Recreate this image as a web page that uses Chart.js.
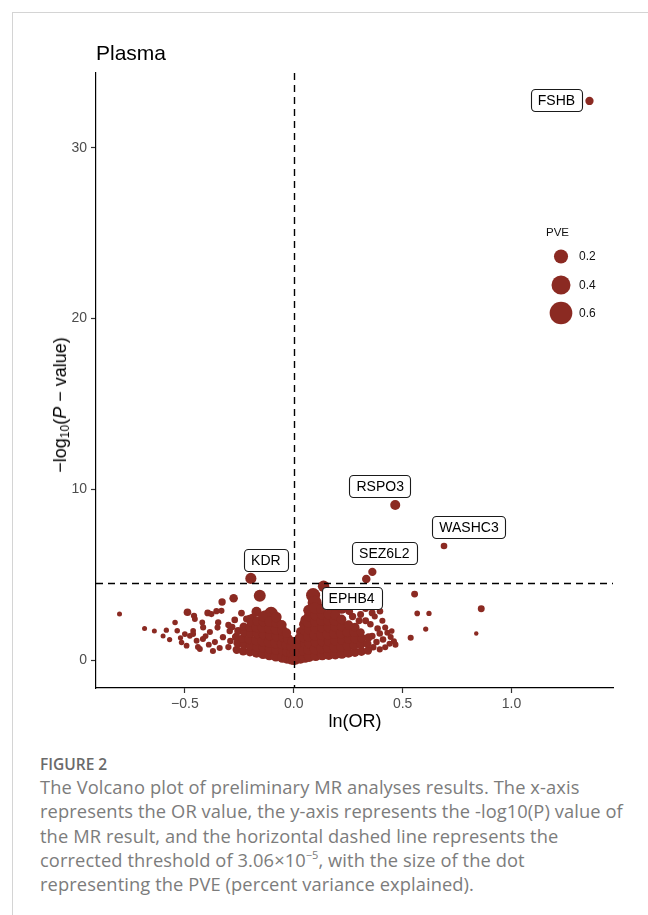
<!DOCTYPE html>
<html>
<head>
<meta charset="utf-8">
<script src="https://cdn.jsdelivr.net/npm/chart.js@4.4.1/dist/chart.umd.min.js"></script>
<style>
  html, body { margin: 0; padding: 0; background: #fff; }
  body { width: 648px; height: 915px; position: relative; overflow: hidden;
         font-family: "Liberation Sans", Arial, sans-serif; }
  #frame { position: absolute; left: 12px; top: 12px; width: 640px; height: 910px;
           border-top: 1px solid #d4d4d4; border-left: 1px solid #d4d4d4; }
  #wrap { position: absolute; left: 0; top: 0; width: 648px; height: 745px; }
  #plotTitle { position: absolute; left: 96px; top: 42px; font-size: 21px; color: #000; line-height: 1; }
  #yTitle { position: absolute; left: 61px; top: 405px; transform: translate(-50%, -50%) rotate(-90deg);
            font-size: 18px; color: #000; white-space: nowrap; line-height: 1; }
  #yTitle sub { font-size: 12px; vertical-align: -3px; }
  #xTitle { position: absolute; left: 355px; top: 721px; transform: translate(-50%, -50%);
            font-size: 18px; color: #000; white-space: nowrap; line-height: 1; }
  #figNo { position: absolute; left: 40px; top: 757px; font-family: "Open Sans", sans-serif;
           font-size: 15.5px; font-weight: 600; color: #6a6a6a; line-height: 1; }
  #caption { position: absolute; left: 40px; top: 775px; font-family: "Open Sans", sans-serif;
             font-size: 18.3px; letter-spacing: 0.1px; color: #7c7c7c; line-height: 24.3px; white-space: nowrap; }
  #caption sup { font-size: 11px; vertical-align: 8px; line-height: 0; letter-spacing: 0; }
</style>
</head>
<body>
<div id="frame"></div>
<div id="wrap"><canvas id="volcano" width="648" height="745"></canvas></div>
<div id="plotTitle">Plasma</div>
<div id="yTitle">−log<sub>10</sub>(<i>P</i> − value)</div>
<div id="xTitle">ln(OR)</div>
<div id="figNo">FIGURE 2</div>
<div id="caption">The Volcano plot of preliminary MR analyses results. The x-axis<br>represents the OR value, the y-axis represents the -log10(P) value of<br>the MR result, and the horizontal dashed line represents the<br>corrected threshold of 3.06×10<sup>−5</sup>, with the size of the dot<br>representing the PVE (percent variance explained).</div>

<script>
// ---- data -------------------------------------------------------------
// labelled genes: ln(OR), -log10(P), PVE
const geneNames = ['FSHB', 'RSPO3', 'WASHC3', 'SEZ6L2', 'KDR', 'EPHB4'];
const geneLnOR  = [1.358, 0.466, 0.690, 0.361, -0.197, 0.137];
const geneLogP  = [32.75, 9.08, 6.68, 5.16, 4.78, 4.32];
const genePVE   = [0.05, 0.084, 0.026, 0.05, 0.11, 0.12];

// Bonferroni-corrected threshold 3.06e-5 on the -log10 scale
const thresholdLogP = 4.514;

// remaining proteins, as [ln(OR), -log10(P), PVE]
const leftCore = [
  [-0.262,0.60,0.05],[-0.258,0.98,0.05],[-0.265,1.35,0.05],[-0.255,1.70,0.045],
  [-0.232,0.52,0.06],[-0.228,0.88,0.06],[-0.234,1.25,0.06],[-0.226,1.62,0.06],[-0.230,1.95,0.05],
  [-0.201,0.48,0.07],[-0.198,0.82,0.07],[-0.204,1.20,0.07],[-0.197,1.58,0.07],[-0.202,1.92,0.07],[-0.196,2.20,0.06],
  [-0.171,0.42,0.08],[-0.168,0.78,0.08],[-0.173,1.15,0.08],[-0.166,1.55,0.08],[-0.172,1.92,0.08],[-0.167,2.28,0.07],
  [-0.141,0.36,0.09],[-0.138,0.72,0.09],[-0.143,1.10,0.09],[-0.137,1.50,0.09],[-0.142,1.90,0.09],[-0.139,2.28,0.09],[-0.141,2.55,0.08],
  [-0.112,0.30,0.10],[-0.108,0.66,0.10],[-0.113,1.05,0.10],[-0.107,1.45,0.10],[-0.111,1.85,0.10],[-0.109,2.25,0.10],
  [-0.082,0.22,0.10],[-0.078,0.60,0.10],[-0.083,1.00,0.10],[-0.077,1.40,0.10],[-0.081,1.80,0.10],[-0.079,2.20,0.10],[-0.080,2.52,0.10],
  [-0.052,0.15,0.10],[-0.048,0.55,0.10],[-0.053,0.95,0.10],[-0.047,1.35,0.10],[-0.051,1.72,0.09],[-0.055,2.06,0.08],
  [-0.031,0.10,0.10],[-0.028,0.48,0.10],[-0.032,0.88,0.09],[-0.027,1.25,0.08],[-0.033,1.58,0.07],
  [-0.011,0.05,0.10],[-0.009,0.42,0.09],[-0.012,0.80,0.07],[-0.008,1.10,0.06],
  [0.000,0.02,0.10],[0.002,0.45,0.06]
];
const rightCore = [
  [0.009,0.05,0.10],[0.011,0.42,0.09],[0.008,0.80,0.07],
  [0.031,0.10,0.10],[0.028,0.50,0.10],[0.032,0.90,0.10],[0.027,1.28,0.09],[0.033,1.65,0.08],
  [0.052,0.15,0.10],[0.048,0.55,0.10],[0.053,0.95,0.10],[0.047,1.35,0.10],[0.051,1.75,0.10],[0.049,2.10,0.10],[0.054,2.35,0.09],
  [0.071,0.20,0.10],[0.068,0.60,0.10],[0.073,1.00,0.10],[0.067,1.40,0.10],[0.072,1.80,0.10],[0.069,2.20,0.10],[0.071,2.58,0.10],[0.068,2.92,0.10],
  [0.101,0.25,0.10],[0.098,0.65,0.10],[0.103,1.05,0.10],[0.097,1.45,0.10],[0.102,1.85,0.10],[0.099,2.25,0.10],[0.101,2.62,0.10],[0.097,3.05,0.12],
  [0.131,0.30,0.10],[0.128,0.70,0.10],[0.133,1.10,0.10],[0.127,1.50,0.10],[0.132,1.90,0.10],[0.129,2.30,0.10],[0.131,2.68,0.10],[0.126,3.00,0.09],
  [0.161,0.32,0.10],[0.158,0.72,0.10],[0.163,1.12,0.10],[0.157,1.52,0.10],[0.162,1.92,0.10],[0.159,2.32,0.10],[0.161,2.68,0.09],
  [0.191,0.35,0.10],[0.188,0.75,0.10],[0.193,1.15,0.10],[0.187,1.55,0.10],[0.192,1.95,0.10],[0.189,2.32,0.10],[0.191,2.62,0.08],
  [0.221,0.38,0.09],[0.218,0.78,0.09],[0.223,1.18,0.09],[0.217,1.58,0.09],[0.222,1.98,0.09],[0.219,2.38,0.08],
  [0.251,0.42,0.08],[0.248,0.82,0.08],[0.253,1.22,0.08],[0.247,1.62,0.08],[0.252,2.05,0.07],
  [0.281,0.45,0.07],[0.278,0.85,0.07],[0.283,1.25,0.07],[0.277,1.62,0.07],[0.282,1.92,0.06],
  [0.311,0.50,0.06],[0.308,0.90,0.06],[0.313,1.28,0.06],[0.307,1.62,0.05],
  [0.341,0.55,0.05],[0.338,0.95,0.05],[0.343,1.32,0.05]
];
const bigHits = [
  [-0.104,2.70,0.20],[-0.156,3.76,0.134],[-0.171,2.83,0.085],[-0.130,2.55,0.15],[-0.190,2.45,0.06],
  [0.089,3.80,0.20],[0.096,3.35,0.20],[0.081,2.88,0.13],[0.219,3.05,0.13],[0.185,2.95,0.08],[0.150,3.20,0.09]
];
const leftScatter = [
  [-0.800,2.69,0.010],[-0.685,1.85,0.010],[-0.640,1.70,0.010],[-0.585,1.75,0.012],[-0.545,2.20,0.014],
  [-0.535,1.72,0.014],[-0.570,1.20,0.012],[-0.515,1.03,0.014],[-0.500,1.52,0.016],[-0.477,1.42,0.016],
  [-0.492,0.84,0.016],[-0.462,1.71,0.016],[-0.446,1.13,0.018],[-0.440,0.76,0.018],[-0.488,2.80,0.040],
  [-0.458,2.59,0.022],[-0.395,2.76,0.028],[-0.355,2.86,0.022],[-0.329,3.40,0.036],[-0.276,3.62,0.055],
  [-0.378,2.69,0.020],[-0.454,2.40,0.018],[-0.416,1.91,0.020],[-0.347,2.20,0.022],[-0.332,2.88,0.020],
  [-0.462,1.52,0.018],[-0.417,1.23,0.020],[-0.385,1.64,0.020],[-0.362,1.05,0.020],[-0.325,1.34,0.022],
  [-0.294,1.70,0.024],[-0.291,1.11,0.024],[-0.283,1.93,0.026],[-0.300,0.76,0.022],[-0.371,0.53,0.020],
  [-0.431,0.64,0.018],[-0.202,2.45,0.030],[-0.217,2.40,0.030],[-0.271,2.35,0.026],[-0.300,2.05,0.022],
  [-0.240,2.75,0.028],[-0.405,1.40,0.018],[-0.390,0.90,0.018],[-0.340,0.70,0.020],[-0.350,1.90,0.020],
  [-0.420,2.20,0.016],[-0.520,1.30,0.012],[-0.600,1.40,0.010]
];
const rightScatter = [
  [0.307,2.67,0.030],[0.330,3.00,0.025],[0.360,2.76,0.030],[0.396,2.86,0.025],[0.407,2.30,0.020],
  [0.372,2.55,0.020],[0.352,2.10,0.025],[0.385,1.85,0.025],[0.420,1.90,0.020],[0.430,1.60,0.020],
  [0.395,1.55,0.025],[0.360,1.40,0.030],[0.410,1.20,0.025],[0.445,1.35,0.020],[0.460,1.10,0.020],
  [0.467,0.90,0.020],[0.440,0.95,0.020],[0.380,1.05,0.025],[0.420,0.75,0.020],[0.395,0.62,0.020],
  [0.365,0.75,0.025],[0.450,1.70,0.015],[0.330,2.30,0.030],[0.300,2.30,0.030],[0.270,2.55,0.035],
  [0.255,2.85,0.040],[0.240,3.25,0.035],[0.180,3.20,0.050],[0.333,4.74,0.055],
  [0.555,3.86,0.030],[0.567,2.73,0.015],[0.621,2.73,0.012],[0.606,1.81,0.012],[0.537,1.30,0.020],
  [0.861,3.00,0.030],[0.838,1.55,0.006]
];

// axis ticks
const xTicks = [-0.5, 0, 0.5, 1.0];
const xTickLabels = ['−0.5', '0.0', '0.5', '1.0'];
const yTicks = [0, 10, 20, 30];
const yTickLabels = ['0', '10', '20', '30'];

// PVE size key
const legendPVE = [0.2, 0.4, 0.6];
const legendLabels = ['0.2', '0.4', '0.6'];

// ---- styling / layout --------------------------------------------------
const DOT = '#8b2a22';
const FONT = '"Liberation Sans", Arial, sans-serif';
// point radius (px) grows with sqrt(PVE), like an area scale
const sizeOf = pve => 1.2 + 13.1 * Math.sqrt(pve);
// label box centre, as pixel offset from its point
const labelOffset = {
  FSHB: [-33, -1], RSPO3: [-15, -19], WASHC3: [25, -19],
  SEZ6L2: [12, -19], KDR: [15, -18], EPHB4: [28, 12]
};
const legendLayout = { titleX: 546, titleY: 233, dotX: 561, rowY: [256.5, 285, 313], textX: 579 };

const toBubbles = rows => rows.map(r => ({ x: r[0], y: r[1], r: sizeOf(r[2]) }));
const geneBubbles = geneNames.map((n, i) => ({ x: geneLnOR[i], y: geneLogP[i], r: sizeOf(genePVE[i]) }));

const ds = (data) => ({ data, backgroundColor: DOT, borderWidth: 0, hoverRadius: 0 });

const overlay = {
  id: 'overlay',
  afterDatasetsDraw(chart) {
    const { ctx, chartArea: a, scales: { x, y } } = chart;
    ctx.save();
    // reference lines
    ctx.strokeStyle = '#000';
    ctx.lineWidth = 1.4;
    ctx.setLineDash([7, 5]);
    const x0 = Math.round(x.getPixelForValue(0)) + 0.5;
    ctx.beginPath(); ctx.moveTo(x0, a.top); ctx.lineTo(x0, a.bottom); ctx.stroke();
    const yt = Math.round(y.getPixelForValue(thresholdLogP)) + 0.5;
    ctx.beginPath(); ctx.moveTo(a.left, yt); ctx.lineTo(a.right, yt); ctx.stroke();
    ctx.setLineDash([]);

    // gene labels
    ctx.font = '14px ' + FONT;
    ctx.textAlign = 'center';
    ctx.textBaseline = 'middle';
    geneNames.forEach((name, i) => {
      const px = x.getPixelForValue(geneLnOR[i]);
      const py = y.getPixelForValue(geneLogP[i]);
      const [dx, dy] = labelOffset[name];
      const cx = px + dx, cy = py + dy;
      const w = ctx.measureText(name).width + 14, h = 22;
      ctx.beginPath();
      ctx.roundRect(Math.round(cx - w / 2) + 0.5, Math.round(cy - h / 2) + 0.5, Math.round(w), h, 4);
      ctx.fillStyle = '#fff'; ctx.fill();
      ctx.lineWidth = 1.1; ctx.strokeStyle = '#1a1a1a'; ctx.stroke();
      ctx.fillStyle = '#000';
      ctx.fillText(name, cx, cy + 1);
    });

    // PVE size key
    const L = legendLayout;
    ctx.textAlign = 'left';
    ctx.fillStyle = '#111';
    ctx.font = '11.5px ' + FONT;
    ctx.fillText('PVE', L.titleX, L.titleY);
    legendPVE.forEach((v, i) => {
      ctx.beginPath();
      ctx.arc(L.dotX, L.rowY[i], sizeOf(v), 0, Math.PI * 2);
      ctx.fillStyle = DOT; ctx.fill();
      ctx.fillStyle = '#111';
      ctx.font = '12px ' + FONT;
      ctx.fillText(legendLabels[i], L.textX, L.rowY[i] + 0.5);
    });
    ctx.restore();
  }
};

const axisCommon = {
  type: 'linear',
  grid: { drawOnChartArea: false, drawTicks: true, tickLength: 5, tickWidth: 1.2, tickColor: '#333' },
  border: { display: true, color: '#000', width: 1.2 },
};

new Chart(document.getElementById('volcano'), {
  type: 'bubble',
  data: {
    datasets: [
      ds(toBubbles(leftCore)), ds(toBubbles(rightCore)),
      ds(toBubbles(leftScatter)), ds(toBubbles(rightScatter)),
      ds(toBubbles(bigHits)), ds(geneBubbles)
    ]
  },
  options: {
    responsive: false,
    devicePixelRatio: 1,
    animation: false,
    events: [],
    layout: { padding: { top: 73, right: 35, left: 0, bottom: 0 } },
    plugins: { legend: { display: false }, tooltip: { enabled: false }, title: { display: false } },
    scales: {
      x: {
        ...axisCommon,
        position: 'bottom',
        min: -0.908, max: 1.466,
        afterBuildTicks: s => { s.ticks = xTicks.map(v => ({ value: v })); },
        afterFit: s => { s.height = 57; },
        ticks: {
          padding: 3, color: '#4d4d4d', font: { family: FONT, size: 14 },
          maxRotation: 0, autoSkip: false,
          callback: (v) => xTickLabels[xTicks.indexOf(v)]
        }
      },
      y: {
        ...axisCommon,
        position: 'left',
        min: -1.64, max: 34.39,
        afterBuildTicks: s => { s.ticks = yTicks.map(v => ({ value: v })); },
        afterFit: s => { s.width = 96; },
        ticks: {
          padding: 4, color: '#4d4d4d', font: { family: FONT, size: 14 },
          autoSkip: false,
          callback: (v) => yTickLabels[yTicks.indexOf(v)]
        }
      }
    }
  },
  plugins: [overlay]
});
</script>
</body>
</html>
